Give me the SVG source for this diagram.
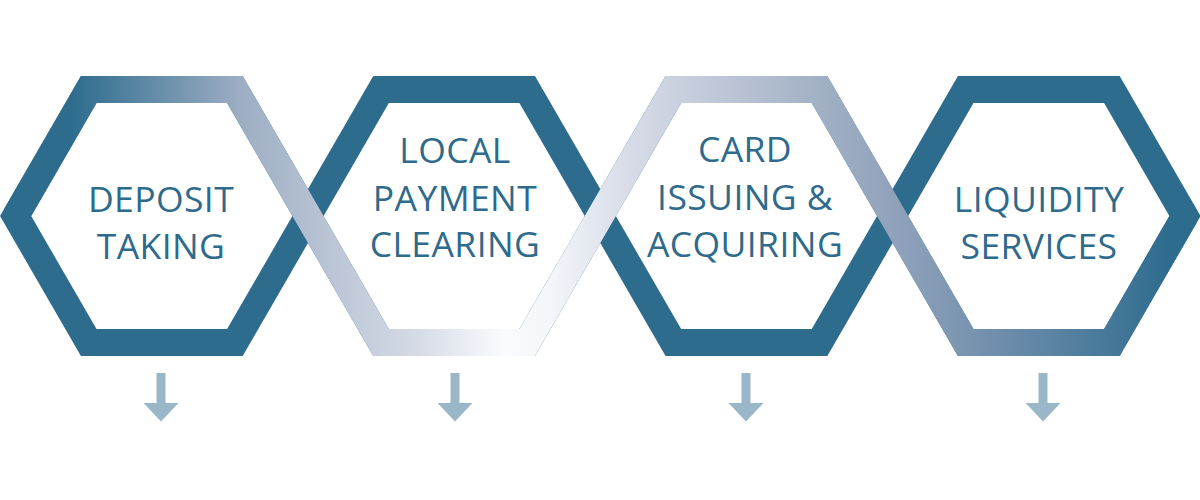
<svg xmlns="http://www.w3.org/2000/svg" width="1200" height="500" viewBox="0 0 1200 500">
  <style>
    .hex { fill: none; stroke: #2e6c8e; stroke-width: 27; stroke-linejoin: miter; }
    .ribbon { fill: none; stroke: url(#rib); stroke-width: 27; stroke-linejoin: miter; stroke-linecap: butt; }
    .lbl { font-family: "Open Sans", "Liberation Sans", sans-serif; font-size: 35.5px; letter-spacing: 0.4px; fill: #2e6a8c; text-anchor: middle; }
    .arr { fill: #9ab6c9; }
  </style>
  <defs>
    <linearGradient id="rib" gradientUnits="userSpaceOnUse" x1="0" y1="0" x2="1200" y2="0">
      <stop offset="0.06" stop-color="#2e6c8e"/>
      <stop offset="0.2" stop-color="#9dadc3"/>
      <stop offset="0.28" stop-color="#bcc6d6"/>
      <stop offset="0.35" stop-color="#d6dce7"/>
      <stop offset="0.42" stop-color="#fafbfd"/>
      <stop offset="0.46" stop-color="#f3f5f9"/>
      <stop offset="0.52" stop-color="#d8dde8"/>
      <stop offset="0.69" stop-color="#a0aec4"/>
      <stop offset="0.76" stop-color="#8c9fb8"/>
      <stop offset="0.88" stop-color="#5a83a3"/>
      <stop offset="0.975" stop-color="#2e6c8e"/>
    </linearGradient>
  </defs>
  <g id="hex-deposit">
    <polygon class="hex" points="15.63,216 88.72,89.41 234.88,89.41 307.97,216 234.88,342.59 88.72,342.59"/>
  </g>
  <g id="hex-local">
    <polygon class="hex" points="307.96,216 381.05,89.41 527.21,89.41 600.3,216 527.21,342.59 381.05,342.59"/>
  </g>
  <g id="hex-card">
    <polygon class="hex" points="600.29,216 673.38,89.41 819.54,89.41 892.63,216 819.54,342.59 673.38,342.59"/>
  </g>
  <g id="hex-liquidity">
    <polygon class="hex" points="892.62,216 965.71,89.41 1111.87,89.41 1184.96,216 1111.87,342.59 965.71,342.59"/>
  </g>
  <g id="connectors">
    <path class="ribbon" d="M15.63,216 L88.72,89.41 L234.88,89.41 L381.05,342.59 L527.21,342.59 L673.38,89.41 L819.54,89.41 L965.71,342.59 L1111.87,342.59 L1184.96,216"/>
    <path class="arr" d="M156.5,373 h9 v30 h13 l-17.5,18.5 l-17.5,-18.5 h13 z"/>
    <path class="arr" d="M450.5,373 h9 v30 h13 l-17.5,18.5 l-17.5,-18.5 h13 z"/>
    <path class="arr" d="M741.5,373 h9 v30 h13 l-17.5,18.5 l-17.5,-18.5 h13 z"/>
    <path class="arr" d="M1038.5,373 h9 v30 h13 l-17.5,18.5 l-17.5,-18.5 h13 z"/>
  </g>
  <g id="label-deposit">
    <text class="lbl" x="161" y="212">DEPOSIT</text>
    <text class="lbl" x="161" y="259">TAKING</text>
  </g>
  <g id="label-local">
    <text class="lbl" x="455" y="163">LOCAL</text>
    <text class="lbl" x="455" y="211">PAYMENT</text>
    <text class="lbl" x="455" y="257">CLEARING</text>
  </g>
  <g id="label-card">
    <text class="lbl" x="745" y="162">CARD</text>
    <text class="lbl" x="745" y="210">ISSUING &amp;</text>
    <text class="lbl" x="745" y="257">ACQUIRING</text>
  </g>
  <g id="label-liquidity">
    <text class="lbl" x="1039" y="212">LIQUIDITY</text>
    <text class="lbl" x="1039" y="259">SERVICES</text>
  </g>
</svg>
